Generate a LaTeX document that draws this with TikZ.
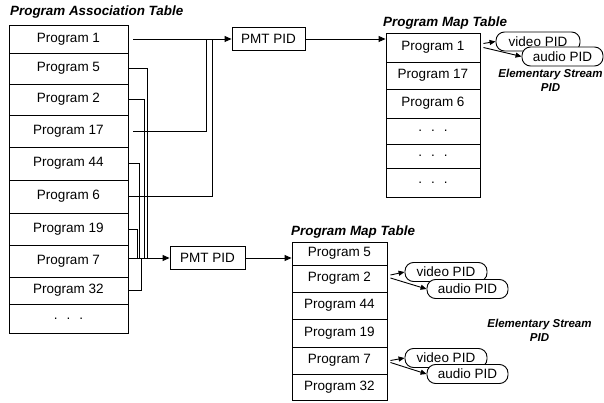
\documentclass[tikz,border=0pt]{standalone}
\usepackage{fontspec}
\setmainfont{Liberation Sans}
\usetikzlibrary{arrows.meta,calc}
\begin{document}
\begin{tikzpicture}[x=1pt,y=-1pt,
  every node/.style={font=\fontsize{13.5}{15}\selectfont, inner sep=0pt},
  cell/.style={draw, line width=0.9pt, anchor=center},
  patcell/.style={cell, minimum width=119pt},
  tacell/.style={cell, minimum width=94pt},
  tbcell/.style={cell, minimum width=95pt},
  pmtbox/.style={draw, line width=0.9pt, minimum height=23pt},
  pidbox/.style={draw, line width=0.9pt, fill=white, rounded corners=8.5pt, minimum height=19pt},
  ttl/.style={font=\fontsize{13.4}{15}\selectfont\bfseries\itshape, anchor=west},
  esl/.style={font=\fontsize{11.5}{14}\selectfont\bfseries\itshape, align=center},
  ln/.style={line width=0.9pt},
  arr/.style={line width=0.9pt, -{Triangle[length=7pt,width=6pt]}},
  sarr/.style={line width=0.9pt, -{Triangle[length=6pt,width=5pt]}},
]
\useasboundingbox (0,0) rectangle (604,403);
\newcommand{\threedots}{.\hspace{9pt}.\hspace{9pt}.}

% Program Association Table
\node[ttl] (patT) at (10,12) {Program Association Table};
\node[patcell, minimum height=28pt] (pat1) at (68.5,39) {Program 1};
\node[patcell, minimum height=31pt] (pat2) at (68.5,68.5) {Program 5};
\node[patcell, minimum height=31pt] (pat3) at (68.5,99.5) {Program 2};
\node[patcell, minimum height=32pt] (pat4) at (68.5,131) {Program 17};
\node[patcell, minimum height=33pt] (pat5) at (68.5,163.5) {Program 44};
\node[patcell, minimum height=33pt] (pat6) at (68.5,196.5) {Program 6};
\node[patcell, minimum height=32pt] (pat7) at (68.5,229) {Program 19};
\node[patcell, minimum height=32pt] (pat8) at (68.5,261) {Program 7};
\node[patcell, minimum height=27pt] (pat9) at (68.5,290.5) {Program 32};
\node[patcell, minimum height=29pt] (pat10) at (68.5,318.5) {\threedots};

% PMT PID boxes
\node[pmtbox, minimum width=73pt] (pmtA) at (268.5,39) {PMT PID};
\node[pmtbox, minimum width=75pt] (pmtB) at (207.5,258) {PMT PID};

% Top Program Map Table
\node[ttl] (taT) at (383,23) {Program Map Table};
\node[tacell, minimum height=29pt] (ta1) at (433,47.5) {Program 1};
\node[tacell, minimum height=27pt] (ta2) at (433,75.5) {Program 17};
\node[tacell, minimum height=29pt] (ta3) at (433,103.5) {Program 6};
\node[tacell, minimum height=26pt] (ta4) at (433,131) {\threedots};
\node[tacell, minimum height=24pt] (ta5) at (433,156) {\threedots};
\node[tacell, minimum height=29pt] (ta6) at (433,182.5) {\threedots};

% Bottom Program Map Table
\node[ttl] (tbT) at (291,232) {Program Map Table};
\node[tbcell, minimum height=23pt] (tb1) at (339.5,253.5) {Program 5};
\node[tbcell, minimum height=27pt] (tb2) at (339.5,278.5) {Program 2};
\node[tbcell, minimum height=27pt] (tb3) at (339.5,305.5) {Program 44};
\node[tbcell, minimum height=28pt] (tb4) at (339.5,333) {Program 19};
\node[tbcell, minimum height=27pt] (tb5) at (339.5,360.5) {Program 7};
\node[tbcell, minimum height=26pt] (tb6) at (339.5,387) {Program 32};

% Elementary stream PID boxes
\node[pidbox, minimum width=84pt] (vA) at (538,41.5) {video PID};
\node[pidbox, minimum width=81pt] (aA) at (562.5,56.5) {audio PID};
\node[pidbox, minimum width=82pt] (vB) at (446,272) {video PID};
\node[pidbox, minimum width=81pt] (aB) at (467.5,289) {audio PID};
\node[pidbox, minimum width=82pt] (vC) at (446,358) {video PID};
\node[pidbox, minimum width=81pt] (aC) at (467.5,374) {audio PID};

\node[esl] (esA) at (550.5,80) {Elementary Stream\\PID};
\node[esl] (esB) at (539.5,330) {Elementary Stream\\PID};

% Connectors to top PMT PID
\draw[arr] ([xshift=5pt]pat1.east) -- (pmtA.west);
\draw[ln] ([xshift=5pt]pat4.east) -| ([xshift=-25pt]pmtA.west);
\draw[ln] (pat6.east) -| ([xshift=-19pt]pmtA.west);
\draw[arr] (pmtA.east) -- (pmtA.east -| ta1.west);

% Connectors to bottom PMT PID
\coordinate (j) at (pat8.east |- pmtB.west);
\draw[ln] (pat2.east) -| ([xshift=19pt]j);
\draw[ln] (pat3.east) -| ([xshift=16pt]j);
\draw[ln] (pat9.east) -| ([xshift=13pt]j);
\draw[ln] (pat5.east) -| ([xshift=11pt]j);
\draw[ln] (pat7.east) -| ([xshift=9pt]j);
\draw[arr] (j) -- (pmtB.west);
\draw[arr] (pmtB.east) -- (pmtB.east -| tb1.west);

% PID arrows
\draw[sarr] ([xshift=3pt,yshift=4pt]ta1.east) -- (vA.west);
\draw[sarr] ([xshift=3pt]ta1.east) -- (aA.west);
\draw[sarr] ([xshift=3pt,yshift=3.5pt]tb2.east) -- (vB.west);
\draw[sarr] ([xshift=3pt,yshift=0.5pt]tb2.east) -- (aB.west);
\draw[sarr] ([xshift=3pt,yshift=0pt]tb5.east) -- (vC.west);
\draw[sarr] ([xshift=3pt,yshift=-2pt]tb5.east) -- (aC.west);
\end{tikzpicture}
\end{document}
